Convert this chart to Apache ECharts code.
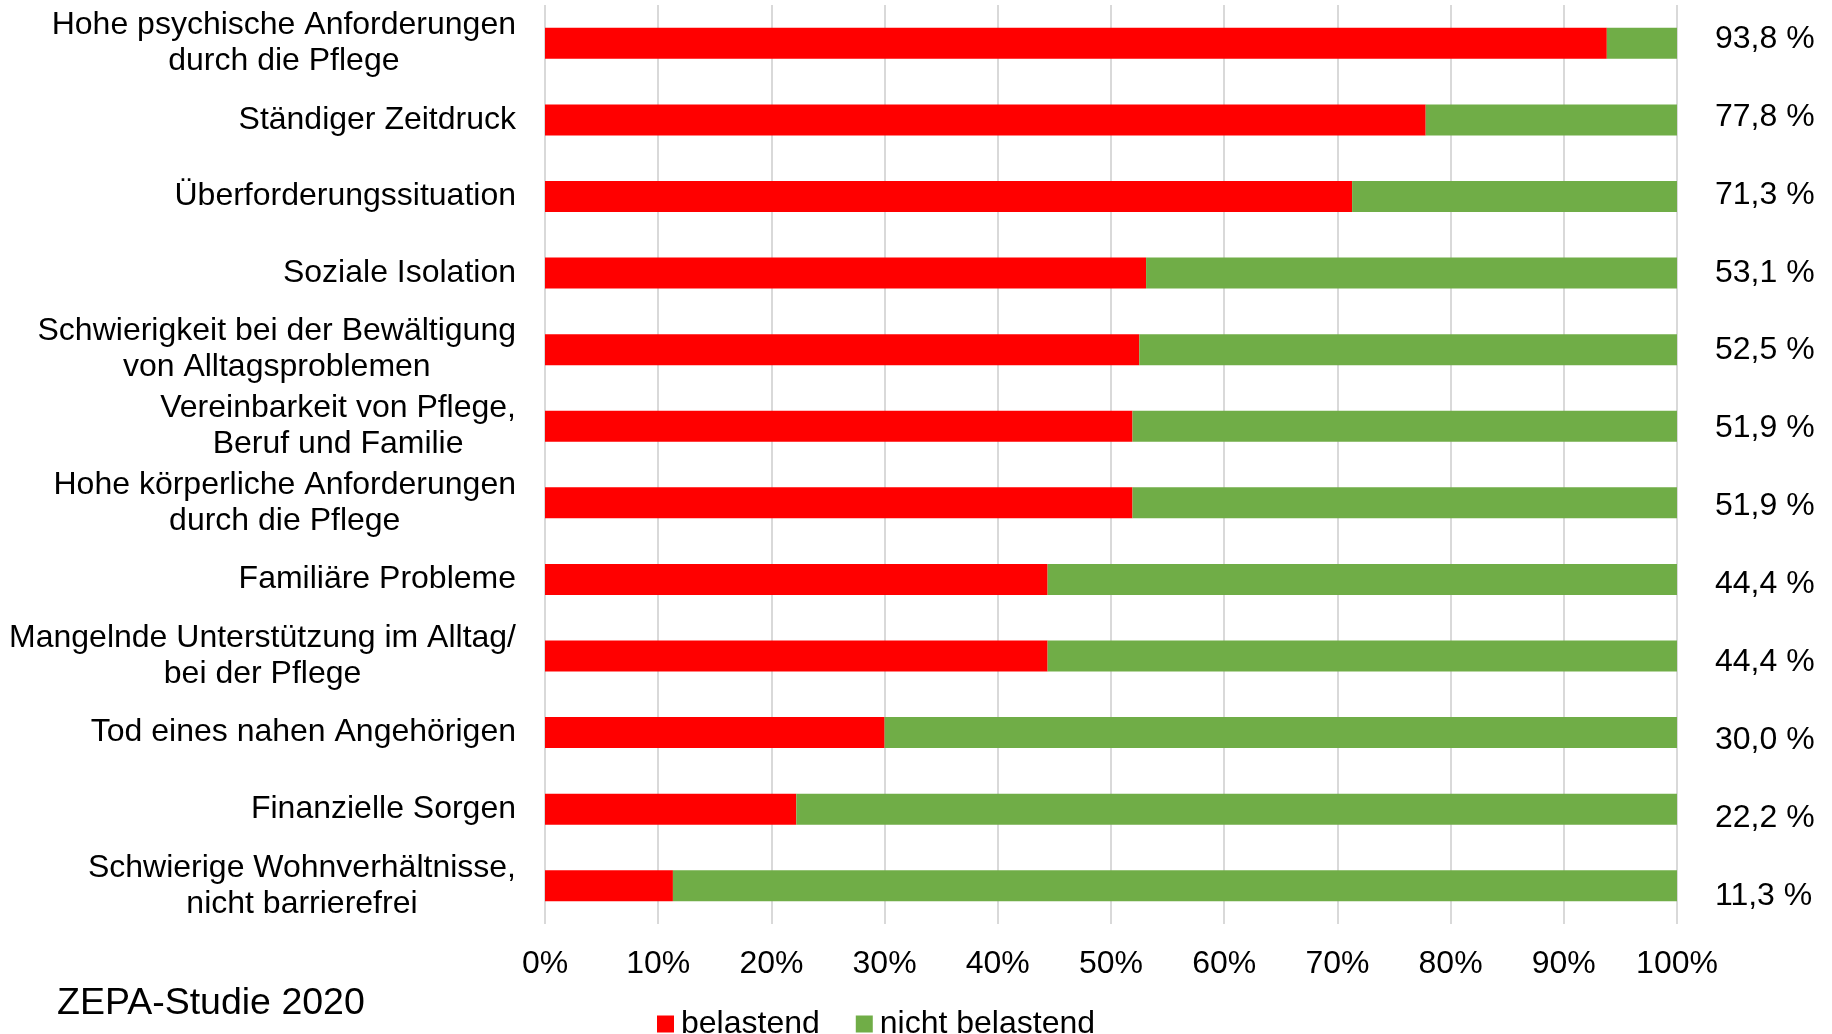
<!DOCTYPE html>
<html>
<head>
<meta charset="utf-8">
<title>ZEPA-Studie 2020</title>
<script src="https://cdn.jsdelivr.net/npm/echarts@6/dist/echarts.min.js"></script>
<style>
  html, body { margin: 0; padding: 0; background: #fff; }
  #chart { width: 1832px; height: 1034px; }
</style>
</head>
<body>
<div id="chart"></div>
<script>
// Belastungsfaktoren pflegender Angehöriger (Anteile in %)
const categories = [
  "Hohe psychische Anforderungen\ndurch die Pflege",
  "Ständiger Zeitdruck",
  "Überforderungssituation",
  "Soziale Isolation",
  "Schwierigkeit bei der Bewältigung\nvon Alltagsproblemen",
  "Vereinbarkeit von Pflege,\nBeruf und Familie",
  "Hohe körperliche Anforderungen\ndurch die Pflege",
  "Familiäre Probleme",
  "Mangelnde Unterstützung im Alltag/\nbei der Pflege",
  "Tod eines nahen Angehörigen",
  "Finanzielle Sorgen",
  "Schwierige Wohnverhältnisse,\nnicht barrierefrei"
];
const belastend = [93.8, 77.8, 71.3, 53.1, 52.5, 51.9, 51.9, 44.4, 44.4, 30.0, 22.2, 11.3];
const nichtBelastend = [6.2, 22.2, 28.7, 46.9, 47.5, 48.1, 48.1, 55.6, 55.6, 70.0, 77.8, 88.7];
const seriesNames = ["belastend", "nicht belastend"];
const tickLabels = ["0%", "10%", "20%", "30%", "40%", "50%", "60%", "70%", "80%", "90%", "100%"];
const sourceNote = "ZEPA-Studie 2020";

const FONT = "'Liberation Sans', Arial, sans-serif";
const FS = 32;

// right-hand value column: share "belastend" in German number format
const valueLabels = belastend.map(v => v.toFixed(1).replace('.', ',') + ' %');

const chart = echarts.init(document.getElementById('chart'), null, { renderer: 'canvas' });

chart.setOption({
  backgroundColor: '#ffffff',
  animation: false,
  textStyle: { fontFamily: FONT, color: '#000' },
  graphic: [{
    type: 'text',
    left: 57,
    top: 985,
    style: { text: sourceNote, font: '37.5px ' + FONT, fill: '#000' }
  }],
  legend: {
    left: 657,
    top: 1008,
    padding: 0,
    itemWidth: 17,
    itemHeight: 17,
    itemGap: 36,
    icon: 'rect',
    selectedMode: false,
    textStyle: { fontSize: FS, fontFamily: FONT, color: '#000', padding: [0, 0, 0, 2] },
    data: seriesNames
  },
  grid: [
    { left: 545, right: 155, top: 5, bottom: 110 },
    { left: 545, right: 155, top: -3, bottom: 99 }
  ],
  xAxis: [{
    type: 'value',
    gridIndex: 0,
    min: 0, max: 100, interval: 10,
    axisLine: { show: false },
    axisTick: { show: false },
    splitLine: { show: true, lineStyle: { color: '#d9d9d9', width: 2 } },
    axisLabel: {
      margin: 24,
      fontSize: FS, fontFamily: FONT, color: '#000',
      formatter: (v) => tickLabels[Math.round(v / 10)]
    }
  }, {
    type: 'value',
    gridIndex: 1,
    min: 0, max: 100,
    show: false
  }],
  yAxis: [{
    type: 'category',
    gridIndex: 0,
    inverse: true,
    data: categories,
    axisLine: { show: false },
    axisTick: { show: false },
    axisLabel: {
      margin: 29,
      align: 'right',
      fontSize: FS, fontFamily: FONT, color: '#000',
      lineHeight: 36,
      formatter: (v) => v.split('\n').map(s => '{c|' + s + '}').join('\n'),
      rich: { c: { align: 'center', fontSize: FS, fontFamily: FONT, color: '#000', lineHeight: 36 } }
    }
  }, {
    type: 'category',
    gridIndex: 1,
    inverse: true,
    position: 'right',
    data: valueLabels,
    axisLine: { show: false },
    axisTick: { show: false },
    splitLine: { show: false },
    axisLabel: {
      margin: 38,
      align: 'left',
      fontSize: FS, fontFamily: FONT, color: '#000'
    }
  }],
  series: [{
    name: seriesNames[0],
    type: 'bar',
    stack: 'total',
    xAxisIndex: 0, yAxisIndex: 0,
    barWidth: 31,
    itemStyle: { color: '#ff0000' },
    data: belastend
  }, {
    name: seriesNames[1],
    type: 'bar',
    stack: 'total',
    xAxisIndex: 0, yAxisIndex: 0,
    barWidth: 31,
    itemStyle: { color: '#70ad47' },
    data: nichtBelastend
  }]
});
</script>
</body>
</html>
